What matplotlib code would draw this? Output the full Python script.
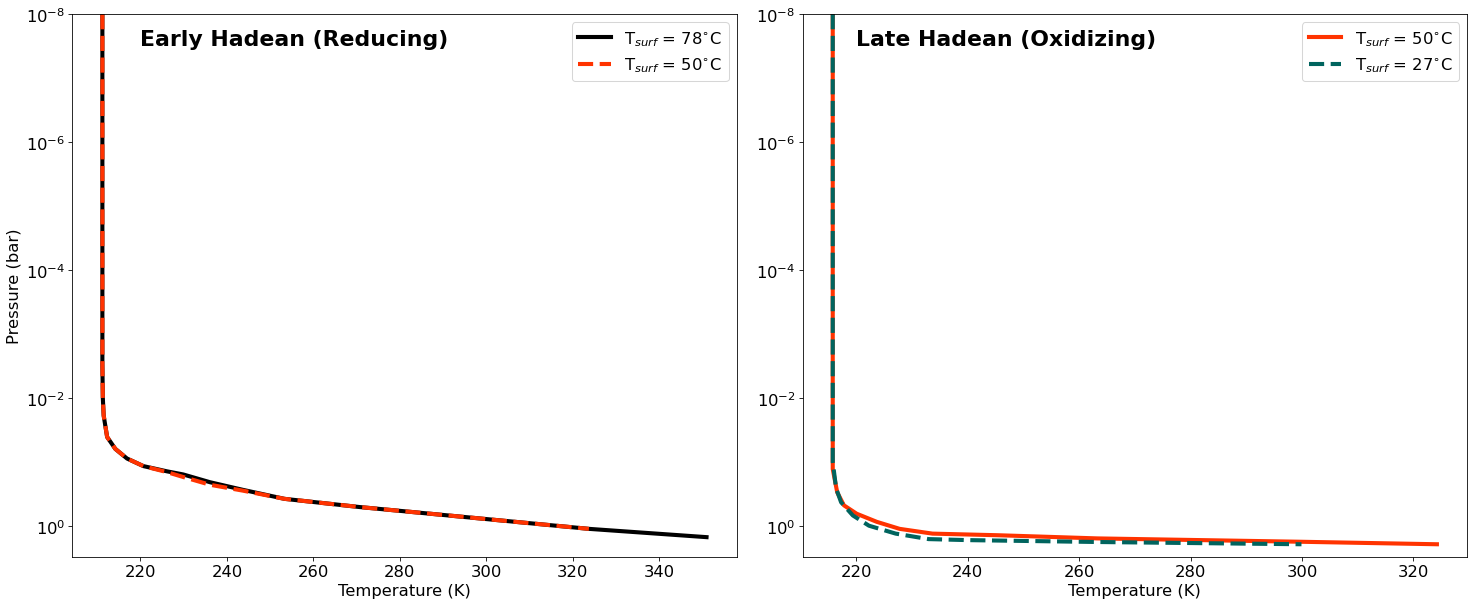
import numpy as np
import matplotlib
matplotlib.use("Agg")
import matplotlib.pyplot as plt
from matplotlib.ticker import FixedLocator, NullLocator

# Early Hadean (reducing) - T in K, P in bar
early_78_T = [211.2, 211.2, 211.2, 211.2, 211.3, 211.5, 212.3, 214.2, 216.9, 220.7,
              226.1, 229.9, 236.1, 243.7, 253.3, 270.6, 280.5, 300.2, 323.7, 350.9]
early_78_P = [1e-8, 1e-6, 1e-4, 3e-3, 1e-2, 1.9e-2, 4.1e-2, 6.3e-2, 8.9e-2, 0.117,
              0.141, 0.158, 0.209, 0.275, 0.38, 0.51, 0.59, 0.79, 1.12, 1.51]

early_50_T = [211.2, 211.2, 211.2, 211.2, 211.3, 211.5, 212.3, 214.2, 216.9, 220.7,
              226.1, 230.0, 236.1, 243.7, 253.3, 270.6, 280.5, 300.2, 323.7]
early_50_P = [1e-8, 1e-6, 1e-4, 3e-3, 1e-2, 1.9e-2, 4.1e-2, 6.3e-2, 8.9e-2, 0.117,
              0.145, 0.174, 0.229, 0.283, 0.38, 0.51, 0.59, 0.79, 1.12]

# Late Hadean (oxidizing)
late_50_T = [215.8, 215.8, 215.8, 215.8, 215.8, 216.6, 217.8, 220.1, 223.7, 227.8,
             233.7, 245.5, 263.3, 299.4, 324.2]
late_50_P = [1e-8, 1e-6, 1e-4, 1e-2, 0.13, 0.30, 0.48, 0.65, 0.87, 1.12,
             1.33, 1.41, 1.58, 1.78, 1.95]

late_27_T = [215.8, 215.8, 215.8, 215.8, 215.8, 216.4, 217.3, 219.4, 222.3, 227.1,
             233.0, 240.0, 263.7, 299.9]
late_27_P = [1e-8, 1e-6, 1e-4, 1e-2, 0.10, 0.26, 0.43, 0.69, 1.0, 1.33,
             1.62, 1.68, 1.80, 1.95]

yticks = [1e-8, 1e-6, 1e-4, 1e-2, 1e0]

red = '#ff3300'
teal = '#00645e'

fig, (ax1, ax2) = plt.subplots(1, 2, figsize=(20, 8.228), dpi=73.65)
plt.subplots_adjust(left=0.049, right=0.996, bottom=0.079, top=0.975, wspace=0.099)

ax1.plot(early_78_T, early_78_P, color='black', lw=4, label=r'T$_{surf}$ = 78$^{\circ}$C')
ax1.plot(early_50_T, early_50_P, color=red, lw=4, ls='--', label=r'T$_{surf}$ = 50$^{\circ}$C')
ax1.text(220, 3e-8, 'Early Hadean (Reducing)', fontsize=21.5, fontweight='bold')
ax1.set_ylabel('Pressure (bar)', fontsize=16)

ax2.plot(late_50_T, late_50_P, color=red, lw=4, label=r'T$_{surf}$ = 50$^{\circ}$C')
ax2.plot(late_27_T, late_27_P, color=teal, lw=4, ls='--', label=r'T$_{surf}$ = 27$^{\circ}$C')
ax2.text(220, 3e-8, 'Late Hadean (Oxidizing)', fontsize=21.5, fontweight='bold')

for ax in (ax1, ax2):
    ax.set_yscale('log')
    ax.yaxis.set_major_locator(FixedLocator(yticks))
    ax.yaxis.set_minor_locator(NullLocator())
    ax.set_ylim(3.1, 1e-8)
    ax.set_xlabel('Temperature (K)', fontsize=16)
    ax.tick_params(labelsize=16)
    ax.legend(loc='upper right', fontsize=16)

plt.savefig('out.png', dpi=73.65)
